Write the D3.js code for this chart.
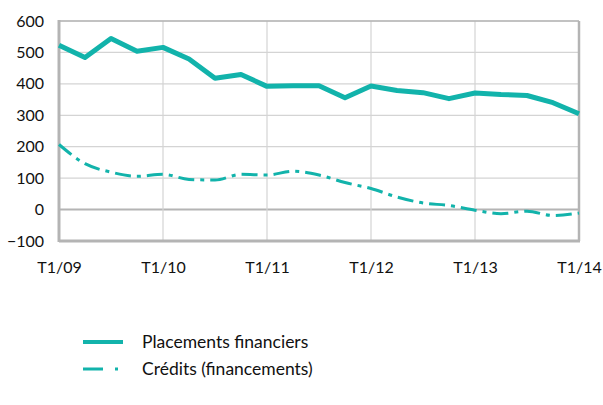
<!DOCTYPE html>
<html>
<head>
<meta charset="utf-8">
<script src="https://cdn.jsdelivr.net/npm/d3@7"></script>
<style>
  body { margin: 0; background: #fff; }
  svg { display: block; font-family: "Lato", "Open Sans", sans-serif; }
</style>
</head>
<body>
<svg id="chart" width="603" height="405"></svg>
<script>
// quarters T1/09 .. T1/14
const quarters = d3.range(21);
const yearTicks = [0, 4, 8, 12, 16, 20];
const yearLabels = ["T1/09", "T1/10", "T1/11", "T1/12", "T1/13", "T1/14"];
const yTicks = [-100, 0, 100, 200, 300, 400, 500, 600];

const placements = [523, 484, 544, 504, 516, 479, 418, 430, 392, 394, 394, 356, 393,
    379, 372, 353, 371, 366, 363, 340, 305];
const credits = [207, 146, 119, 106, 112, 96, 94, 112, 110, 122, 110, 86, 67,
    40, 21, 13, -2, -13, -5, -19, -11];

const seriesNames = ["Placements financiers", "Crédits (financements)"];

const teal = "#12b3ab",
    grid = "#d4d4d4",
    axisGray = "#b4b4b4";

const svg = d3.select("#chart");
const margin = {top: 21, left: 59, right: 24, bottom: 164};
const width = 603 - margin.left - margin.right,
    height = 405 - margin.top - margin.bottom;

const x = d3.scaleLinear().domain([0, 20]).range([0, width]);
const y = d3.scaleLinear().domain([-100, 600]).range([height, 0]);

const g = svg.append("g").attr("transform", `translate(${margin.left},${margin.top})`);

// horizontal grid
g.append("g")
    .selectAll("line")
    .data(yTicks)
    .join("line")
    .attr("x1", 0).attr("x2", width)
    .attr("y1", d => y(d)).attr("y2", d => y(d))
    .attr("stroke", d => d === 0 ? axisGray : grid)
    .attr("stroke-width", d => d === 0 ? 2 : 1.2);

// vertical grid
g.append("g")
    .selectAll("line")
    .data(yearTicks.slice(1, -1))
    .join("line")
    .attr("x1", d => x(d)).attr("x2", d => x(d))
    .attr("y1", 0).attr("y2", height)
    .attr("stroke", grid)
    .attr("stroke-width", 1.2);

// frame
g.append("line").attr("x1", 0).attr("x2", width).attr("y1", 0).attr("y2", 0)
    .attr("stroke", axisGray).attr("stroke-width", 1.5);
g.append("line").attr("x1", width).attr("x2", width).attr("y1", 0).attr("y2", height)
    .attr("stroke", axisGray).attr("stroke-width", 2.5);
g.append("line").attr("x1", 0).attr("x2", 0).attr("y1", -1).attr("y2", height + 1)
    .attr("stroke", axisGray).attr("stroke-width", 3);
g.append("line").attr("x1", 0).attr("x2", width + 1).attr("y1", height).attr("y2", height)
    .attr("stroke", axisGray).attr("stroke-width", 3);

// y labels
const yAxis = d3.axisLeft(y).tickValues(yTicks).tickSize(0).tickPadding(15);
g.append("g").call(yAxis)
    .call(s => s.select(".domain").remove())
    .selectAll("text")
    .attr("font-size", 16)
    .attr("font-family", "Lato, 'Open Sans', sans-serif")
    .attr("fill", "#111");

// x labels
const xAxis = d3.axisBottom(x).tickValues(yearTicks)
    .tickFormat((d, i) => yearLabels[i]).tickSize(0).tickPadding(21);
g.append("g").attr("transform", `translate(0,${height})`).call(xAxis)
    .call(s => s.select(".domain").remove())
    .selectAll("text")
    .attr("font-size", 16)
    .attr("font-family", "Lato, 'Open Sans', sans-serif")
    .attr("fill", "#111");

// lines
const lineP = d3.line().x((d, i) => x(quarters[i])).y(d => y(d));
const lineC = d3.line().x((d, i) => x(quarters[i])).y(d => y(d)).curve(d3.curveMonotoneX);

g.append("path").datum(credits)
    .attr("d", lineC)
    .attr("fill", "none")
    .attr("stroke", teal)
    .attr("stroke-width", 3)
    .attr("stroke-dasharray", "16,6,4,6");

g.append("path").datum(placements)
    .attr("d", lineP)
    .attr("fill", "none")
    .attr("stroke", teal)
    .attr("stroke-width", 5)
    .attr("stroke-linejoin", "round");

// legend
const legend = svg.append("g").attr("transform", "translate(83,342)");
const rows = legend.selectAll("g").data(seriesNames).join("g")
    .attr("transform", (d, i) => `translate(0,${i * 27})`);
rows.append("line")
    .attr("x1", 0).attr("x2", 40)
    .attr("stroke", teal)
    .attr("stroke-width", (d, i) => i === 0 ? 4 : 3)
    .attr("stroke-dasharray", (d, i) => i === 0 ? null : "20,12,3,100");
rows.append("text")
    .attr("x", 59).attr("y", 6)
    .attr("font-size", 17.5)
    .attr("fill", "#111")
    .text(d => d);
</script>
</body>
</html>
